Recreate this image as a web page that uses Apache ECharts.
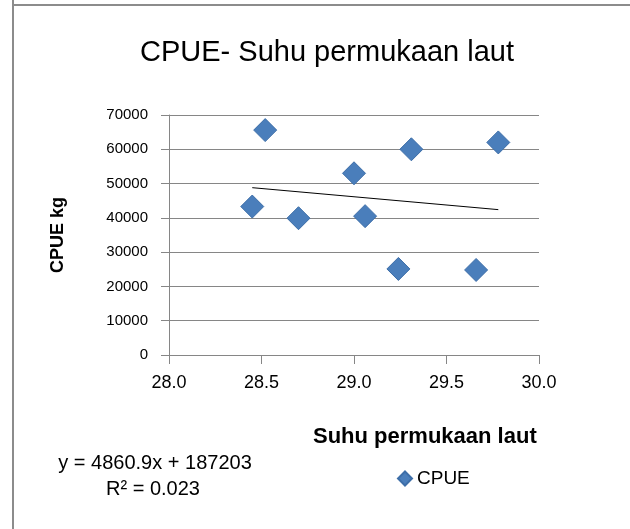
<!DOCTYPE html>
<html>
<head>
<meta charset="utf-8">
<script src="https://cdn.jsdelivr.net/npm/echarts@6/dist/echarts.min.js"></script>
<style>html,body{margin:0;padding:0;background:#fff}#c{width:630px;height:529px}</style>
</head>
<body>
<div id="c"></div>
<script>
// Data
var sstValues = [28.45, 28.52, 28.70, 29.00, 29.06, 29.24, 29.31, 29.66, 29.78];
var cpueValues = [43300, 65600, 39900, 53000, 40500, 25100, 60000, 24800, 62000];
var trendX = [28.45, 29.78];
var trendY = [48800, 42400];
var xTicks = ['28.0', '28.5', '29.0', '29.5', '30.0'];
var yTicks = ['0', '10000', '20000', '30000', '40000', '50000', '60000', '70000'];
var chartTitle = 'CPUE- Suhu permukaan laut';
var xTitle = 'Suhu permukaan laut';
var yTitle = 'CPUE kg';
var seriesName = 'CPUE';
var eqText = 'y = 4860.9x + 187203';
var r2Text = 'R\u00B2 = 0.023';

var points = sstValues.map(function (x, i) { return [x, cpueValues[i]]; });
var trend = trendX.map(function (x, i) { return [x, trendY[i]]; });

var FONT = '"Liberation Sans", Arial, sans-serif';
var GRID = '#868686';

var chart = echarts.init(document.getElementById('c'), null, {renderer: 'canvas'});
chart.setOption({
  animation: false,
  backgroundColor: '#fff',
  title: {
    text: chartTitle,
    left: 322, top: 33, textAlign: 'center',
    textStyle: {fontFamily: FONT, fontSize: 29, fontWeight: 'normal', color: '#000'}
  },
  grid: {left: 169, right: 91, top: 115, bottom: 174, containLabel: false},
  xAxis: {
    type: 'value', min: 28, max: 30, interval: 0.5,
    axisLine: {show: true, onZero: false, lineStyle: {color: GRID, width: 1}},
    axisTick: {show: true, length: 9, lineStyle: {color: GRID}},
    splitLine: {show: false},
    axisLabel: {
      margin: 19, fontFamily: FONT, fontSize: 18, color: '#000',
      formatter: function (v) { var i = Math.round((v - 28) / 0.5); return xTicks[i] || ''; }
    }
  },
  yAxis: {
    type: 'value', min: 0, max: 70000, interval: 10000,
    name: yTitle, nameLocation: 'middle', nameGap: 102, nameRotate: 90,
    nameTextStyle: {fontFamily: FONT, fontSize: 18, fontWeight: 'bold', color: '#000'},
    axisLine: {show: true, lineStyle: {color: GRID, width: 1}},
    axisTick: {show: true, length: 8, lineStyle: {color: GRID}},
    splitLine: {show: true, lineStyle: {color: GRID, width: 1}},
    axisLabel: {
      margin: 21, fontFamily: FONT, fontSize: 15, color: '#000',
      formatter: function (v) { return yTicks[Math.round(v / 10000)]; }
    }
  },
  legend: {
    left: 392, top: 464,
    itemWidth: 14, itemHeight: 14, itemGap: 12,
    data: [{name: seriesName, icon: 'diamond'}],
    textStyle: {fontFamily: FONT, fontSize: 19, color: '#000'}
  },
  series: [
    {
      name: seriesName, type: 'scatter', data: points,
      symbol: 'diamond', symbolSize: 23,
      itemStyle: {color: '#4A7EBB', opacity: 1, borderColor: '#3d6ea8', borderWidth: 1}
    },
    {
      name: 'trend', type: 'line', data: trend, showSymbol: false, symbol: 'none',
      lineStyle: {color: '#000', width: 1}, silent: true
    }
  ],
  graphic: [
    {type: 'line', shape: {x1: 13, y1: 0, x2: 13, y2: 529}, style: {stroke: '#8c8c8c', lineWidth: 2}, silent: true},
    {type: 'line', shape: {x1: 12, y1: 5, x2: 630, y2: 5}, style: {stroke: '#8c8c8c', lineWidth: 2}, silent: true},
    {type: 'text', left: 313, top: 426, style: {text: xTitle, fontFamily: FONT, fontSize: 22, fontWeight: 'bold', fill: '#000'}},
    {type: 'text', x: 155, y: 463, style: {text: eqText, fontFamily: FONT, fontSize: 20, fill: '#000', textAlign: 'center', textVerticalAlign: 'middle'}},
    {type: 'text', x: 153, y: 489, style: {text: r2Text, fontFamily: FONT, fontSize: 20, fill: '#000', textAlign: 'center', textVerticalAlign: 'middle'}}
  ]
});
</script>
</body>
</html>
